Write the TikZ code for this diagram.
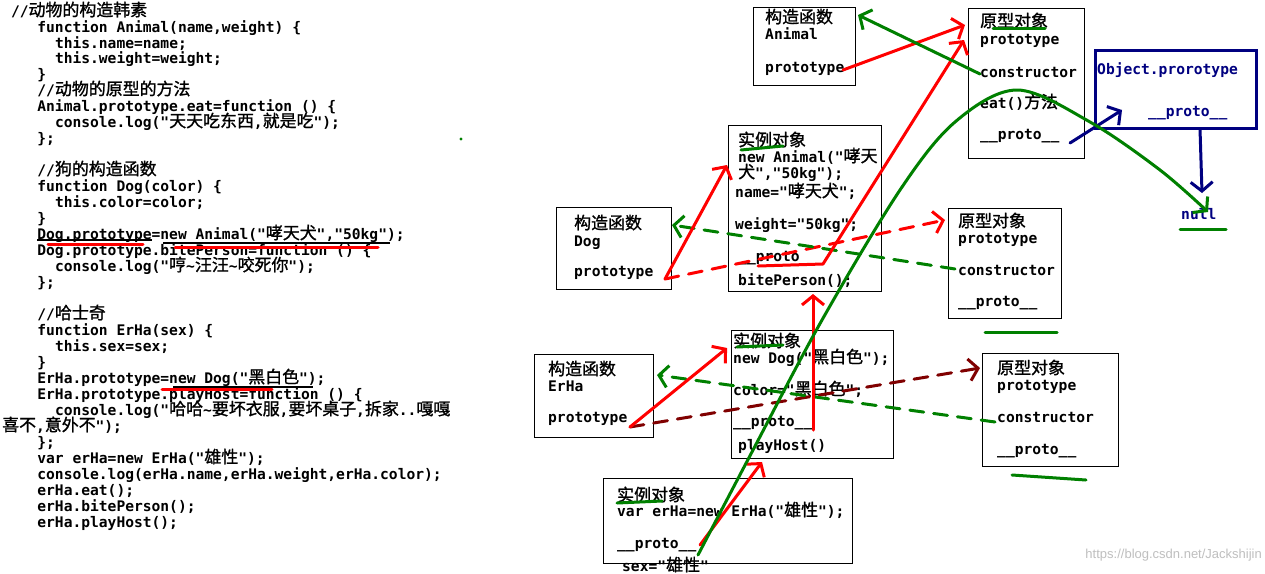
\documentclass[tikz,border=0pt]{standalone}
\usepackage{fontspec}
\setmainfont{DejaVu Sans Mono}[Ligatures=TeXOff]
\newfontfamily\zhfont{Noto Sans CJK SC}[Scale=1.16, FakeBold=1.2]
\newfontfamily\wmfont{Liberation Sans}
\usetikzlibrary{arrows.meta}
\newcommand\zh[1]{{\zhfont\mdseries #1}}
\newcommand\US{\_\_proto\_\_}
\definecolor{pgreen}{HTML}{008000}
\definecolor{pred}{HTML}{FF0000}
\definecolor{pnavy}{HTML}{000080}
\definecolor{dred}{HTML}{800000}
\tikzset{
  code/.style={anchor=base west, inner sep=0pt, font=\fontsize{14.6}{16}\selectfont\bfseries},
  box/.style={draw=black, line width=1pt, anchor=north west, inner sep=0pt, outer sep=0pt},
  pen/.style={line width=3pt, line cap=round, line join=round},
  tip/.style={-{Straight Barb[length=9pt,width=22pt]}},
  dash1/.style={dash pattern=on 14pt off 10pt},
}
\newcommand\codeline[4]{\node[code] (#1) at ({2+8.8*#2},#3) {#4};}
\begin{document}
\begin{tikzpicture}[x=1pt,y=-1pt]
\useasboundingbox[fill=white] (0,0) rectangle (1265,573);

% ---------- code ----------
\codeline{l1}{1}{16}{//\zh{动物的构造韩素}}
\codeline{l2}{4}{32}{function Animal(name,weight) \{}
\codeline{l3}{6}{48}{this.name=name;}
\codeline{l4}{6}{63}{this.weight=weight;}
\codeline{l5}{4}{79}{\}}
\codeline{l6}{4}{95}{//\zh{动物的原型的方法}}
\codeline{l7}{4}{111}{Animal.prototype.eat=function () \{}
\codeline{l8}{6}{127}{console.log("\zh{天天吃东西},\zh{就是吃}");}
\codeline{l9}{4}{143}{\};}
\codeline{l11}{4}{175}{//\zh{狗的构造函数}}
\codeline{l12}{4}{191}{function Dog(color) \{}
\codeline{l13}{6}{207}{this.color=color;}
\codeline{l14}{4}{223}{\}}
\codeline{l15}{4}{239}{Dog.prototype=new Animal("\zh{哮天犬}","50kg");}
\codeline{l16}{4}{255}{Dog.prototype.bitePerson=function () \{}
\codeline{l17}{6}{271}{console.log("\zh{哼}\textasciitilde\zh{汪汪}\textasciitilde\zh{咬死你}");}
\codeline{l18}{4}{287}{\};}
\codeline{l20}{4}{319}{//\zh{哈士奇}}
\codeline{l21}{4}{335}{function ErHa(sex) \{}
\codeline{l22}{6}{351}{this.sex=sex;}
\codeline{l23}{4}{367}{\}}
\codeline{l24}{4}{383}{ErHa.prototype=new Dog("\zh{黑白色}");}
\codeline{l25}{4}{399}{ErHa.prototype.playHost=function () \{}
\codeline{l26}{6}{415}{console.log("\zh{哈哈}\textasciitilde\zh{要坏衣服},\zh{要坏桌子},\zh{拆家}..\zh{嘎嘎}}
\codeline{l27}{0}{431}{\zh{喜不},\zh{意外不}");}
\codeline{l28}{4}{447}{\};}
\codeline{l29}{4}{463}{var erHa=new ErHa("\zh{雄性}");}
\codeline{l30}{4}{479}{console.log(erHa.name,erHa.weight,erHa.color);}
\codeline{l31}{4}{495}{erHa.eat();}
\codeline{l32}{4}{511}{erHa.bitePerson();}
\codeline{l33}{4}{527}{erHa.playHost();}

% marks on code
\draw[line width=1.2pt] (37,240) -- (152,240);
\draw[line width=1.2pt] (163,243) -- (390,243);
\draw[pen, pred] (48,244) -- (143,244);
\draw[pen, pred] (175,247) -- (378,247);
\draw[line width=1.2pt] (173,387) -- (313,387);
\draw[pen, pred] (162,389) -- (272,389);
\fill[pgreen] (461,139) circle (1.6pt);

% ---------- boxes ----------
\node[box, minimum width=102pt, minimum height=78pt] (animCtor) at (753,7) {};
\node[box, minimum width=116pt, minimum height=150pt] (animProto) at (968,8) {};
\node[box, draw=pnavy, line width=3pt, minimum width=161pt, minimum height=78pt] (objProto) at (1095,50) {};
\node[box, minimum width=153pt, minimum height=166pt] (dogInst) at (728,125) {};
\node[box, minimum width=115pt, minimum height=82pt] (dogCtor) at (556,207) {};
\node[box, minimum width=113pt, minimum height=110pt] (dogProto) at (948,208) {};
\node[box, minimum width=119pt, minimum height=83pt] (erhaCtor) at (534,354) {};
\node[box, minimum width=162pt, minimum height=128pt] (erhaInst) at (731,330) {};
\node[box, minimum width=136pt, minimum height=113pt] (erhaProto) at (982,353) {};
\node[box, minimum width=249pt, minimum height=85pt] (erInst) at (603,478) {};

% ---------- box texts ----------
\node[code] (t1a) at (765,23) {\zh{构造函数}};
\node[code] (t1b) at (765,39) {Animal};
\node[code] (t1c) at (765,72) {prototype};

\node[code] (t2a) at (980,27) {\zh{原型对象}};
\node[code] (t2b) at (980,44) {prototype};
\node[code] (t2c) at (980,77) {constructor};
\node[code] (t2d) at (980,108) {eat()\zh{方法}};
\node[code] (t2e) at (980,139) {\US};

\node[code, text=pnavy] (t3a) at (1097,74) {Object.prorotype};
\node[code, text=pnavy] (t3b) at (1148,116) {\US};
\node[code, text=pnavy] (tnull) at (1181,219) {null};

\node[code] (t4a) at (738,146) {\zh{实例对象}};
\node[code] (t4b) at (738,162) {new Animal("\zh{哮天}};
\node[code] (t4c) at (738,178) {\zh{犬}","50kg");};
\node[code] (t4d) at (735,197) {name="\zh{哮天犬}";};
\node[code] (t4e) at (735,229) {weight="50kg";};
\node[code] (t4f) at (738,261) {\US};
\node[code] (t4g) at (738,285) {bitePerson();};

\node[code] (t5a) at (574,229) {\zh{构造函数}};
\node[code] (t5b) at (574,246) {Dog};
\node[code] (t5c) at (574,276) {prototype};

\node[code] (t6a) at (958,227) {\zh{原型对象}};
\node[code] (t6b) at (958,243) {prototype};
\node[code] (t6c) at (958,275) {constructor};
\node[code] (t6d) at (958,306) {\US};

\node[code] (t7a) at (548,375) {\zh{构造函数}};
\node[code] (t7b) at (548,391) {ErHa};
\node[code] (t7c) at (548,422) {prototype};

\node[code] (t8a) at (733,347) {\zh{实例对象}};
\node[code] (t8b) at (733,363) {new Dog("\zh{黑白色}");};
\node[code] (t8c) at (733,395) {color="\zh{黑白色}";};
\node[code] (t8d) at (733,426) {\US};
\node[code] (t8e) at (738,450) {playHost()};

\node[code] (t9a) at (997,374) {\zh{原型对象}};
\node[code] (t9b) at (997,390) {prototype};
\node[code] (t9c) at (997,422) {constructor};
\node[code] (t9d) at (997,454) {\US};

\node[code] (t10a) at (617,501) {\zh{实例对象}};
\node[code] (t10b) at (617,516) {var erHa=new ErHa("\zh{雄性}");};
\node[code] (t10c) at (617,548) {\US};
\node[code] (t10d) at (622,571) {sex="\zh{雄性}"};

\node[anchor=base east, inner sep=0pt, text=black!25, font=\wmfont\fontsize{13}{13}\selectfont] (wm) at (1262,558) {https://blog.csdn.net/Jackshijin};

% ---------- connector end points ----------
\coordinate (aCp) at (843,70);
\coordinate (aPin) at (965,25);
\coordinate (aPin2) at (964,40);
\coordinate (aPcon) at (980,74);
\coordinate (aCin) at (858,15);
\coordinate (aPpr) at (1070,143);
\coordinate (oIn) at (1122,110);
\coordinate (oOut) at (1200,129);
\coordinate (nullIn) at (1202,193);
\coordinate (nullG) at (1208,212);
\coordinate (dIp1) at (758,266);
\coordinate (dIp2) at (823,264);
\coordinate (dCp) at (665,279);
\coordinate (dIin) at (727,165);
\coordinate (dPin) at (945,220);
\coordinate (dPcon) at (955,269);
\coordinate (dCin) at (672,225);
\coordinate (eIp) at (813,430);
\coordinate (dIbot) at (813,294);
\coordinate (eCp) at (630,427);
\coordinate (eIin) at (727,348);
\coordinate (ePin) at (980,368);
\coordinate (ePcon) at (995,422);
\coordinate (eCin) at (657,375);
\coordinate (rIp) at (700,545);
\coordinate (eIbot) at (762,462);
\coordinate (rIg) at (698,555);

% ---------- connectors ----------
\draw[pen, pred, dash1, tip] (dCp) -- (dPin);
\draw[pen, dred, dash1, tip] (eCp) -- (ePin);
\draw[pen, pgreen, dash1, tip] (dPcon) -- (dCin);
\draw[pen, pgreen, dash1, tip] (ePcon) -- (eCin);

\draw[pen, pred, tip] (aCp) -- (aPin);
\draw[pen, pred, tip] (dIp1) -- (dIp2) -- (aPin2);
\draw[pen, pred, tip] (dCp) -- (dIin);
\draw[pen, pred, tip] (eIp) -- (dIbot);
\draw[pen, pred, tip] (eCp) -- (eIin);
\draw[pen, pred, tip] (rIp) -- (eIbot);

\draw[pen, pgreen, tip] (aPcon) -- (aCin);
\draw[pen, pnavy, tip] (aPpr) -- (oIn);
\draw[pen, pnavy, tip] (oOut) -- (nullIn);
\draw[pen, pgreen, tip] plot[smooth, tension=0.55] coordinates {(rIg) (753,450) (822,320) (900,190) (955,122) (1017,90) (1090,122) (1160,170) (nullG)};

% green underlines
\draw[pen, pgreen] (741,150) -- (783,146);
\draw[pen, pgreen] (737,347) -- (783,345);
\draw[pen, pgreen] (617,503) -- (662,501);
\draw[pen, pgreen] (993,28) -- (1045,28);
\draw[pen, pgreen] (985,332) -- (1057,332);
\draw[pen, pgreen] (1012,475) -- (1086,480);
\draw[pen, pgreen] (1180,229) -- (1226,229);
\end{tikzpicture}
\end{document}
